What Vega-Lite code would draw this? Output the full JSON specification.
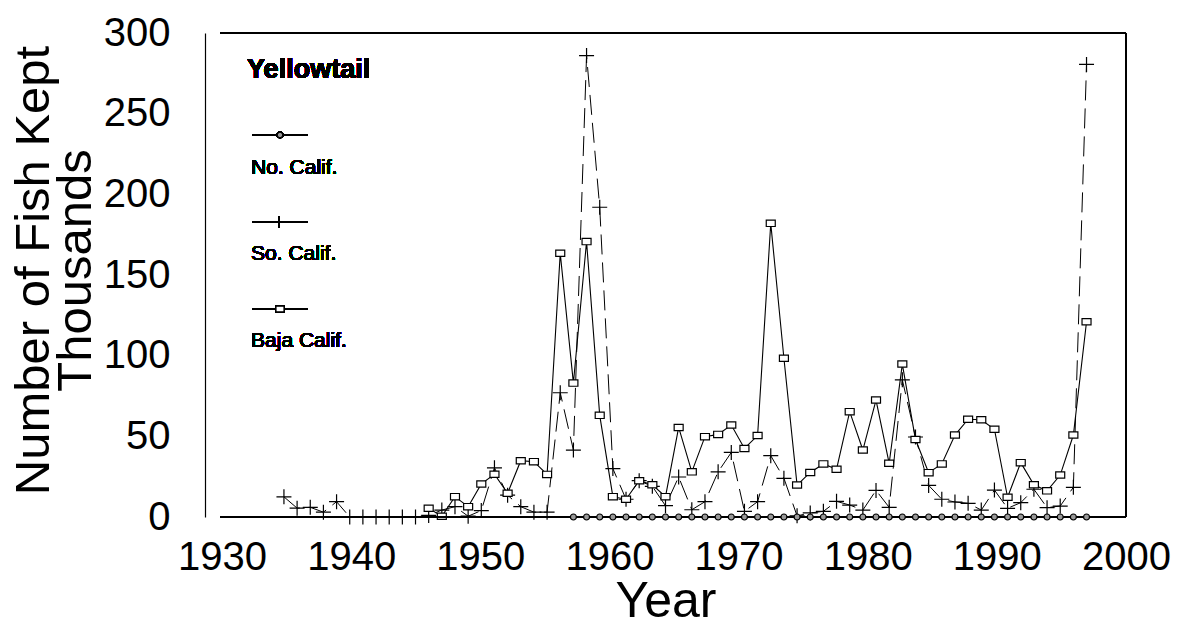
{
  "$schema": "https://vega.github.io/schema/vega-lite/v6.json",
  "width": 921,
  "height": 484,
  "autosize": {"type": "none"},
  "padding": {"left": 205, "top": 33, "right": 52, "bottom": 110},
  "background": "white",
  "config": {
    "view": {"stroke": null},
    "font": "Liberation Sans",
    "axis": {"grid": false, "ticks": false, "labelColor": "black", "titleColor": "black", "domainColor": "black", "titleFontWeight": "normal"}
  },
  "datasets": {
    "catch": [
      {"year": 1936, "region": "So. Calif.", "kept": 12.5},
      {"year": 1937, "region": "So. Calif.", "kept": 5.5},
      {"year": 1938, "region": "So. Calif.", "kept": 6},
      {"year": 1939, "region": "So. Calif.", "kept": 3},
      {"year": 1940, "region": "So. Calif.", "kept": 9.5},
      {"year": 1941, "region": "So. Calif.", "kept": 0},
      {"year": 1942, "region": "So. Calif.", "kept": 0},
      {"year": 1943, "region": "So. Calif.", "kept": 0},
      {"year": 1944, "region": "So. Calif.", "kept": 0},
      {"year": 1945, "region": "So. Calif.", "kept": 0},
      {"year": 1946, "region": "So. Calif.", "kept": 0},
      {"year": 1947, "region": "So. Calif.", "kept": 1},
      {"year": 1948, "region": "So. Calif.", "kept": 4.3},
      {"year": 1949, "region": "So. Calif.", "kept": 6.4},
      {"year": 1950, "region": "So. Calif.", "kept": 0.5},
      {"year": 1951, "region": "So. Calif.", "kept": 4},
      {"year": 1952, "region": "So. Calif.", "kept": 30.5},
      {"year": 1953, "region": "So. Calif.", "kept": 13.5},
      {"year": 1954, "region": "So. Calif.", "kept": 6.4},
      {"year": 1955, "region": "So. Calif.", "kept": 3},
      {"year": 1956, "region": "So. Calif.", "kept": 3},
      {"year": 1957, "region": "So. Calif.", "kept": 77},
      {"year": 1958, "region": "So. Calif.", "kept": 41.5},
      {"year": 1959, "region": "So. Calif.", "kept": 286},
      {"year": 1960, "region": "So. Calif.", "kept": 192},
      {"year": 1961, "region": "So. Calif.", "kept": 30},
      {"year": 1962, "region": "So. Calif.", "kept": 11},
      {"year": 1963, "region": "So. Calif.", "kept": 22.5},
      {"year": 1964, "region": "So. Calif.", "kept": 19},
      {"year": 1965, "region": "So. Calif.", "kept": 7},
      {"year": 1966, "region": "So. Calif.", "kept": 24.8},
      {"year": 1967, "region": "So. Calif.", "kept": 4.5},
      {"year": 1968, "region": "So. Calif.", "kept": 9.5},
      {"year": 1969, "region": "So. Calif.", "kept": 28},
      {"year": 1970, "region": "So. Calif.", "kept": 40},
      {"year": 1971, "region": "So. Calif.", "kept": 3.5},
      {"year": 1972, "region": "So. Calif.", "kept": 9.5},
      {"year": 1973, "region": "So. Calif.", "kept": 38},
      {"year": 1974, "region": "So. Calif.", "kept": 24},
      {"year": 1975, "region": "So. Calif.", "kept": 0.7},
      {"year": 1976, "region": "So. Calif.", "kept": 2.5},
      {"year": 1977, "region": "So. Calif.", "kept": 3.5},
      {"year": 1978, "region": "So. Calif.", "kept": 9.7},
      {"year": 1979, "region": "So. Calif.", "kept": 7.4},
      {"year": 1980, "region": "So. Calif.", "kept": 4.3},
      {"year": 1981, "region": "So. Calif.", "kept": 16.5},
      {"year": 1982, "region": "So. Calif.", "kept": 6},
      {"year": 1983, "region": "So. Calif.", "kept": 85},
      {"year": 1984, "region": "So. Calif.", "kept": 49.6},
      {"year": 1985, "region": "So. Calif.", "kept": 19.6},
      {"year": 1986, "region": "So. Calif.", "kept": 11},
      {"year": 1987, "region": "So. Calif.", "kept": 9.3},
      {"year": 1988, "region": "So. Calif.", "kept": 8.5},
      {"year": 1989, "region": "So. Calif.", "kept": 4.3},
      {"year": 1990, "region": "So. Calif.", "kept": 16.7},
      {"year": 1991, "region": "So. Calif.", "kept": 5.4},
      {"year": 1992, "region": "So. Calif.", "kept": 8.9},
      {"year": 1993, "region": "So. Calif.", "kept": 17.2},
      {"year": 1994, "region": "So. Calif.", "kept": 5.8},
      {"year": 1995, "region": "So. Calif.", "kept": 6.8},
      {"year": 1996, "region": "So. Calif.", "kept": 18.4},
      {"year": 1997, "region": "So. Calif.", "kept": 280.5},
      {"year": 1947, "region": "Baja Calif.", "kept": 5.4},
      {"year": 1948, "region": "Baja Calif.", "kept": 0.5},
      {"year": 1949, "region": "Baja Calif.", "kept": 12.6},
      {"year": 1950, "region": "Baja Calif.", "kept": 6.4},
      {"year": 1951, "region": "Baja Calif.", "kept": 20.5},
      {"year": 1952, "region": "Baja Calif.", "kept": 26.5},
      {"year": 1953, "region": "Baja Calif.", "kept": 14.7},
      {"year": 1954, "region": "Baja Calif.", "kept": 34.9},
      {"year": 1955, "region": "Baja Calif.", "kept": 34.3},
      {"year": 1956, "region": "Baja Calif.", "kept": 26.4},
      {"year": 1957, "region": "Baja Calif.", "kept": 163.5},
      {"year": 1958, "region": "Baja Calif.", "kept": 83},
      {"year": 1959, "region": "Baja Calif.", "kept": 170.7},
      {"year": 1960, "region": "Baja Calif.", "kept": 63},
      {"year": 1961, "region": "Baja Calif.", "kept": 12.6},
      {"year": 1962, "region": "Baja Calif.", "kept": 11},
      {"year": 1963, "region": "Baja Calif.", "kept": 22.5},
      {"year": 1964, "region": "Baja Calif.", "kept": 20},
      {"year": 1965, "region": "Baja Calif.", "kept": 12.6},
      {"year": 1966, "region": "Baja Calif.", "kept": 55.5},
      {"year": 1967, "region": "Baja Calif.", "kept": 28},
      {"year": 1968, "region": "Baja Calif.", "kept": 49.8},
      {"year": 1969, "region": "Baja Calif.", "kept": 51.2},
      {"year": 1970, "region": "Baja Calif.", "kept": 57},
      {"year": 1971, "region": "Baja Calif.", "kept": 42.5},
      {"year": 1972, "region": "Baja Calif.", "kept": 50.5},
      {"year": 1973, "region": "Baja Calif.", "kept": 182},
      {"year": 1974, "region": "Baja Calif.", "kept": 98.4},
      {"year": 1975, "region": "Baja Calif.", "kept": 19.8},
      {"year": 1976, "region": "Baja Calif.", "kept": 27.6},
      {"year": 1977, "region": "Baja Calif.", "kept": 32.9},
      {"year": 1978, "region": "Baja Calif.", "kept": 29.6},
      {"year": 1979, "region": "Baja Calif.", "kept": 65.3},
      {"year": 1980, "region": "Baja Calif.", "kept": 41.5},
      {"year": 1981, "region": "Baja Calif.", "kept": 72.5},
      {"year": 1982, "region": "Baja Calif.", "kept": 33.3},
      {"year": 1983, "region": "Baja Calif.", "kept": 94.8},
      {"year": 1984, "region": "Baja Calif.", "kept": 48},
      {"year": 1985, "region": "Baja Calif.", "kept": 27.5},
      {"year": 1986, "region": "Baja Calif.", "kept": 32.9},
      {"year": 1987, "region": "Baja Calif.", "kept": 50.8},
      {"year": 1988, "region": "Baja Calif.", "kept": 60.6},
      {"year": 1989, "region": "Baja Calif.", "kept": 60.3},
      {"year": 1990, "region": "Baja Calif.", "kept": 54.4},
      {"year": 1991, "region": "Baja Calif.", "kept": 12.2},
      {"year": 1992, "region": "Baja Calif.", "kept": 33.7},
      {"year": 1993, "region": "Baja Calif.", "kept": 20},
      {"year": 1994, "region": "Baja Calif.", "kept": 16.2},
      {"year": 1995, "region": "Baja Calif.", "kept": 26},
      {"year": 1996, "region": "Baja Calif.", "kept": 50.8},
      {"year": 1997, "region": "Baja Calif.", "kept": 121},
      {"year": 1958, "region": "No. Calif.", "kept": 0},
      {"year": 1959, "region": "No. Calif.", "kept": 0},
      {"year": 1960, "region": "No. Calif.", "kept": 0},
      {"year": 1961, "region": "No. Calif.", "kept": 0},
      {"year": 1962, "region": "No. Calif.", "kept": 0},
      {"year": 1963, "region": "No. Calif.", "kept": 0},
      {"year": 1964, "region": "No. Calif.", "kept": 0},
      {"year": 1965, "region": "No. Calif.", "kept": 0},
      {"year": 1966, "region": "No. Calif.", "kept": 0},
      {"year": 1967, "region": "No. Calif.", "kept": 0},
      {"year": 1968, "region": "No. Calif.", "kept": 0},
      {"year": 1969, "region": "No. Calif.", "kept": 0},
      {"year": 1970, "region": "No. Calif.", "kept": 0},
      {"year": 1971, "region": "No. Calif.", "kept": 0},
      {"year": 1972, "region": "No. Calif.", "kept": 0},
      {"year": 1973, "region": "No. Calif.", "kept": 0},
      {"year": 1974, "region": "No. Calif.", "kept": 0},
      {"year": 1975, "region": "No. Calif.", "kept": 0},
      {"year": 1976, "region": "No. Calif.", "kept": 0},
      {"year": 1977, "region": "No. Calif.", "kept": 0},
      {"year": 1978, "region": "No. Calif.", "kept": 0},
      {"year": 1979, "region": "No. Calif.", "kept": 0},
      {"year": 1980, "region": "No. Calif.", "kept": 0},
      {"year": 1981, "region": "No. Calif.", "kept": 0},
      {"year": 1982, "region": "No. Calif.", "kept": 0},
      {"year": 1983, "region": "No. Calif.", "kept": 0},
      {"year": 1984, "region": "No. Calif.", "kept": 0},
      {"year": 1985, "region": "No. Calif.", "kept": 0},
      {"year": 1986, "region": "No. Calif.", "kept": 0},
      {"year": 1987, "region": "No. Calif.", "kept": 0},
      {"year": 1988, "region": "No. Calif.", "kept": 0},
      {"year": 1989, "region": "No. Calif.", "kept": 0},
      {"year": 1990, "region": "No. Calif.", "kept": 0},
      {"year": 1991, "region": "No. Calif.", "kept": 0},
      {"year": 1992, "region": "No. Calif.", "kept": 0},
      {"year": 1993, "region": "No. Calif.", "kept": 0},
      {"year": 1994, "region": "No. Calif.", "kept": 0},
      {"year": 1995, "region": "No. Calif.", "kept": 0},
      {"year": 1996, "region": "No. Calif.", "kept": 0},
      {"year": 1997, "region": "No. Calif.", "kept": 0}
    ]
  },
  "data": {"name": "catch"},
  "layer": [
    {
      "transform": [{"filter": "datum.region === 'So. Calif.'"}],
      "mark": {"type": "line", "color": "black", "strokeWidth": 1, "strokeDash": [20, 8]},
      "encoding": {
        "x": {"field": "year", "type": "quantitative", "scale": {"domain": [1930, 2000], "nice": false, "zero": false},
              "axis": {"values": [1930, 1940, 1950, 1960, 1970, 1980, 1990, 2000], "format": "d", "domain": false, "labelFontSize": 40, "labelPadding": 20, "labelFlush": false,
                       "labelOffset": {"expr": "(2000 - datum.value) * 0.243"},
                       "title": "Year", "titleFontSize": 50, "titlePadding": -1}},
        "y": {"field": "kept", "type": "quantitative", "scale": {"domain": [0, 300], "nice": false},
              "axis": {"values": [0, 50, 100, 150, 200, 250, 300], "labelFontSize": 40, "labelPadding": 35, "domainWidth": 1.2,
                       "title": ["Number of Fish Kept", "Thousands"], "titleFontSize": 49, "titleLineHeight": 42, "titleAngle": -90, "titleBaseline": "top", "titleAlign": "center", "titleX": -196, "titleY": 237}}
      }
    },
    {
      "transform": [{"filter": "datum.region === 'So. Calif.'"}],
      "mark": {"type": "point", "shape": "M-1,0L1,0M0,-1L0,1", "size": 225, "filled": false, "stroke": "black", "strokeWidth": 1.2, "opacity": 1},
      "encoding": {
        "x": {"field": "year", "type": "quantitative"},
        "y": {"field": "kept", "type": "quantitative"}
      }
    },
    {
      "transform": [{"filter": "datum.region === 'Baja Calif.'"}],
      "mark": {"type": "line", "color": "black", "strokeWidth": 1.1},
      "encoding": {
        "x": {"field": "year", "type": "quantitative"},
        "y": {"field": "kept", "type": "quantitative"}
      }
    },
    {
      "transform": [{"filter": "datum.region === 'Baja Calif.'"}],
      "mark": {"type": "point", "shape": "M-1,-0.7L1,-0.7L1,0.7L-1,0.7Z", "size": 81, "filled": true, "fill": "white", "stroke": "black", "strokeWidth": 1.2, "opacity": 1},
      "encoding": {
        "x": {"field": "year", "type": "quantitative"},
        "y": {"field": "kept", "type": "quantitative"}
      }
    },
    {
      "mark": {"type": "rule", "color": "black", "strokeWidth": 1.5},
      "encoding": {
        "x": {"datum": 1931.2, "type": "quantitative"},
        "x2": {"datum": 2000},
        "y": {"datum": 0, "type": "quantitative"}
      }
    },
    {
      "mark": {"type": "rule", "color": "black", "strokeWidth": 1.5},
      "encoding": {
        "x": {"datum": 1931.2, "type": "quantitative"},
        "x2": {"datum": 2000},
        "y": {"datum": 300, "type": "quantitative"}
      }
    },
    {
      "mark": {"type": "rule", "color": "black", "strokeWidth": 1.5},
      "encoding": {
        "x": {"datum": 2000, "type": "quantitative"},
        "y": {"datum": 0, "type": "quantitative"},
        "y2": {"datum": 300}
      }
    },
    {
      "transform": [{"filter": "datum.region === 'No. Calif.'"}],
      "mark": {"type": "line", "color": "black", "strokeWidth": 1.5},
      "encoding": {
        "x": {"field": "year", "type": "quantitative"},
        "y": {"field": "kept", "type": "quantitative"}
      }
    },
    {
      "transform": [{"filter": "datum.region === 'No. Calif.'"}],
      "mark": {"type": "point", "shape": "circle", "size": 36, "filled": true, "fill": "#999999", "stroke": "black", "strokeWidth": 1.2, "opacity": 1},
      "encoding": {
        "x": {"field": "year", "type": "quantitative"},
        "y": {"field": "kept", "type": "quantitative"}
      }
    },
    {
      "mark": {"type": "text", "text": "Yellowtail", "align": "left", "baseline": "middle", "fontSize": 27, "fontWeight": "bold", "color": "black"},
      "encoding": {
        "x": {"datum": 1933.2, "type": "quantitative"},
        "y": {"datum": 277, "type": "quantitative"}
      }
    },
    {
      "mark": {"type": "rule", "color": "black", "strokeWidth": 1},
      "encoding": {
        "x": {"datum": 1933.6, "type": "quantitative"},
        "x2": {"datum": 1937.8},
        "y": {"datum": 236.8, "type": "quantitative"}
      }
    },
    {
      "mark": {"type": "point", "shape": "circle", "size": 30, "filled": true, "fill": "#999999", "stroke": "black", "strokeWidth": 1.2, "opacity": 1},
      "encoding": {
        "x": {"datum": 1935.7, "type": "quantitative"},
        "y": {"datum": 236.8, "type": "quantitative"}
      }
    },
    {
      "mark": {"type": "text", "text": "No. Calif.", "align": "left", "baseline": "middle", "fontSize": 21, "color": "black"},
      "encoding": {
        "x": {"datum": 1933.5, "type": "quantitative"},
        "y": {"datum": 216.3, "type": "quantitative"}
      }
    },
    {
      "mark": {"type": "rule", "color": "black", "strokeWidth": 1},
      "encoding": {
        "x": {"datum": 1933.6, "type": "quantitative"},
        "x2": {"datum": 1937.8},
        "y": {"datum": 182.9, "type": "quantitative"}
      }
    },
    {
      "mark": {"type": "point", "shape": "M-1,0L1,0M0,-1L0,1", "size": 144, "filled": false, "stroke": "black", "strokeWidth": 1.2, "opacity": 1},
      "encoding": {
        "x": {"datum": 1935.6, "type": "quantitative"},
        "y": {"datum": 182.9, "type": "quantitative"}
      }
    },
    {
      "mark": {"type": "text", "text": "So. Calif.", "align": "left", "baseline": "middle", "fontSize": 21, "color": "black"},
      "encoding": {
        "x": {"datum": 1933.5, "type": "quantitative"},
        "y": {"datum": 163, "type": "quantitative"}
      }
    },
    {
      "mark": {"type": "rule", "color": "black", "strokeWidth": 1},
      "encoding": {
        "x": {"datum": 1933.6, "type": "quantitative"},
        "x2": {"datum": 1937.8},
        "y": {"datum": 128.9, "type": "quantitative"}
      }
    },
    {
      "mark": {"type": "point", "shape": "M-1,-0.7L1,-0.7L1,0.7L-1,0.7Z", "size": 64, "filled": true, "fill": "white", "stroke": "black", "strokeWidth": 1.2, "opacity": 1},
      "encoding": {
        "x": {"datum": 1935.7, "type": "quantitative"},
        "y": {"datum": 128.9, "type": "quantitative"}
      }
    },
    {
      "mark": {"type": "text", "text": "Baja Calif.", "align": "left", "baseline": "middle", "fontSize": 21, "color": "black"},
      "encoding": {
        "x": {"datum": 1933.5, "type": "quantitative"},
        "y": {"datum": 109.1, "type": "quantitative"}
      }
    }
  ]
}
